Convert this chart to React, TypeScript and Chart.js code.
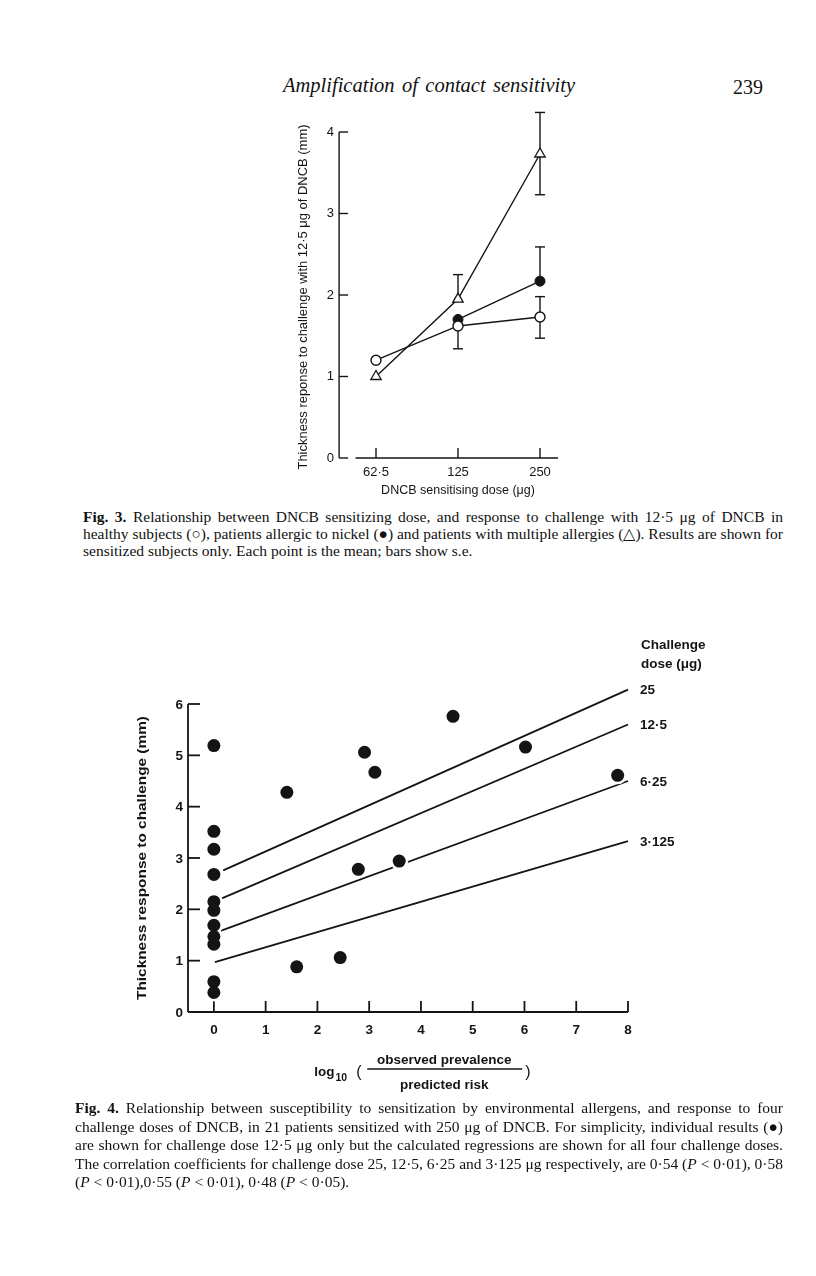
import React, { useEffect, useLayoutEffect, useRef } from 'react';
import { Chart, registerables } from 'chart.js';

Chart.register(...registerables);

// ---------- Fig. 3 data ----------
const fig3Doses = ['62·5', '125', '250'];
const fig3YTicks = [0, 1, 2, 3, 4];
const healthy = [1.2, 1.62, 1.73];
const nickel: (number | null)[] = [null, 1.7, 2.17];
const multiple = [1.0, 1.95, 3.73];
const healthyErrLow: (number | null)[] = [null, 0.28, 0.26];
const healthyErrHigh: (number | null)[] = [null, null, 0.25];
const nickelErrLow: (number | null)[] = [null, null, null];
const nickelErrHigh: (number | null)[] = [null, null, 0.42];
const multipleErrLow: (number | null)[] = [null, null, 0.5];
const multipleErrHigh: (number | null)[] = [null, 0.3, 0.51];

// ---------- Fig. 4 data ----------
const fig4XTicks = [0, 1, 2, 3, 4, 5, 6, 7, 8];
const fig4YTicks = [0, 1, 2, 3, 4, 5, 6];
const pointsX = [0, 0, 0, 0, 0, 0, 0, 0, 0, 0, 0, 1.41, 1.6, 2.44, 2.79, 2.91, 3.11, 3.58, 4.62, 6.02, 7.8];
const pointsY = [5.19, 3.52, 3.17, 2.68, 2.15, 1.98, 1.69, 1.47, 1.32, 0.59, 0.38, 4.28, 0.88, 1.06, 2.78, 5.06, 4.67, 2.94, 5.76, 5.16, 4.61];
const regLabels = ['25', '12·5', '6·25', '3·125'];
const regStartX = [0.18, 0.12, 0.13, 0.02];
const regStartY = [2.76, 2.2, 1.58, 0.97];
const regEndX = [8, 8, 8, 8];
const regEndY = [6.28, 5.6, 4.5, 3.33];

const INK = '#141414';
const SANS = '"Liberation Sans", Arial, sans-serif';
const SERIF = '"Liberation Serif", "Times New Roman", serif';

function line(ctx: CanvasRenderingContext2D, x1: number, y1: number, x2: number, y2: number) {
  ctx.beginPath();
  ctx.moveTo(x1, y1);
  ctx.lineTo(x2, y2);
  ctx.stroke();
}

const fig3Plugin = {
  id: 'fig3Plugin',
  beforeDatasetsDraw(chart: any) {
    const { ctx } = chart;
    const xs = chart.scales.x;
    const ys = chart.scales.y;
    ctx.save();
    ctx.strokeStyle = INK;
    ctx.fillStyle = INK;
    ctx.lineWidth = 1.4;
    const ax = xs.getPixelForValue(-0.45);
    const y0 = ys.getPixelForValue(0);
    const yTop = ys.getPixelForValue(4);
    line(ctx, ax, yTop, ax, y0);
    ctx.font = `13px ${SANS}`;
    ctx.textAlign = 'right';
    ctx.textBaseline = 'middle';
    fig3YTicks.forEach((t) => {
      const py = ys.getPixelForValue(t);
      line(ctx, ax, py, ax + 9, py);
      ctx.fillText(String(t), ax - 5, py);
    });
    const xl = xs.getPixelForValue(-0.25);
    const xr = xs.getPixelForValue(2.22);
    line(ctx, xl, y0, xr, y0);
    ctx.textAlign = 'center';
    fig3Doses.forEach((d, i) => {
      const px = xs.getPixelForValue(i);
      line(ctx, px, y0, px, y0 - 10);
      ctx.fillText(d, px, y0 + 14);
    });
    ctx.font = `12.5px ${SANS}`;
    ctx.fillText('DNCB sensitising dose (μg)', xs.getPixelForValue(1), y0 + 33);
    // y title
    ctx.save();
    ctx.translate(ax - 36, (yTop + y0) / 2 + 2);
    ctx.rotate(-Math.PI / 2);
    ctx.font = `12.5px ${SANS}`;
    const title = 'Thickness reponse to challenge with 12·5 μg of DNCB (mm)';
    const w = ctx.measureText(title).width;
    const target = 345;
    ctx.scale(target / w, 1);
    ctx.fillText(title, 0, 0);
    ctx.restore();
    // error bars
    const series = [
      { v: healthy, lo: healthyErrLow, hi: healthyErrHigh },
      { v: nickel, lo: nickelErrLow, hi: nickelErrHigh },
      { v: multiple, lo: multipleErrLow, hi: multipleErrHigh },
    ];
    ctx.lineWidth = 1.4;
    series.forEach((s) => {
      s.v.forEach((val, i) => {
        if (val == null) return;
        const px = xs.getPixelForValue(i);
        const py = ys.getPixelForValue(val);
        const hi = s.hi[i];
        const lo = s.lo[i];
        if (hi != null) {
          const p = ys.getPixelForValue(val + hi);
          line(ctx, px, py, px, p);
          line(ctx, px - 5, p, px + 5, p);
        }
        if (lo != null) {
          const p = ys.getPixelForValue(val - lo);
          line(ctx, px, py, px, p);
          line(ctx, px - 5, p, px + 5, p);
        }
      });
    });
    ctx.restore();
  },
};

const F4 = `bold 13.5px ${SANS}`;

const fig4Plugin = {
  id: 'fig4Plugin',
  beforeDatasetsDraw(chart: any) {
    const { ctx } = chart;
    const xs = chart.scales.x;
    const ys = chart.scales.y;
    ctx.save();
    ctx.strokeStyle = INK;
    ctx.fillStyle = INK;
    ctx.lineWidth = 1.8;
    const ax = xs.getPixelForValue(-0.5);
    const y0 = ys.getPixelForValue(0);
    const yTop = ys.getPixelForValue(6);
    const xEnd = xs.getPixelForValue(8);
    line(ctx, ax, yTop, ax, y0);
    line(ctx, ax, y0, xEnd, y0);
    ctx.font = F4;
    ctx.textAlign = 'right';
    ctx.textBaseline = 'middle';
    fig4YTicks.forEach((t) => {
      const py = ys.getPixelForValue(t);
      line(ctx, ax, py, ax + 12, py);
      ctx.fillText(String(t), ax - 5, py + 1);
    });
    ctx.textAlign = 'center';
    fig4XTicks.forEach((t) => {
      const px = xs.getPixelForValue(t);
      line(ctx, px, y0, px, y0 - 11);
      ctx.fillText(String(t), px, y0 + 18);
    });
    // y title
    ctx.save();
    ctx.translate(ax - 46, (yTop + y0) / 2 + 0);
    ctx.rotate(-Math.PI / 2);
    ctx.font = F4;
    const title = 'Thickness response to challenge (mm)';
    const w = ctx.measureText(title).width;
    ctx.scale(284 / w, 1);
    ctx.fillText(title, 0, 0);
    ctx.restore();
    // x title: log10 ( observed prevalence / predicted risk )
    const cx = xs.getPixelForValue(4.45);
    ctx.textBaseline = 'alphabetic';
    ctx.textAlign = 'left';
    ctx.font = F4;
    const lx = cx - 130;
    ctx.fillText('log', lx, y0 + 64);
    const lw = ctx.measureText('log').width;
    ctx.font = `bold 10.5px ${SANS}`;
    ctx.fillText('10', lx + lw + 1, y0 + 69);
    ctx.font = `16px ${SANS}`;
    ctx.fillText('(', lx + 42, y0 + 65);
    ctx.fillText(')', cx + 81, y0 + 65);
    ctx.font = F4;
    ctx.textAlign = 'center';
    ctx.fillText('observed prevalence', cx, y0 + 52);
    ctx.fillText('predicted risk', cx, y0 + 77);
    ctx.lineWidth = 1.5;
    line(ctx, cx - 77, y0 + 57, cx + 78, y0 + 57);
    ctx.restore();
  },
  afterDraw(chart: any) {
    const { ctx } = chart;
    const xs = chart.scales.x;
    const ys = chart.scales.y;
    ctx.save();
    ctx.fillStyle = INK;
    ctx.font = F4;
    ctx.textAlign = 'left';
    ctx.textBaseline = 'middle';
    regLabels.forEach((lab, i) => {
      const px = xs.getPixelForValue(regEndX[i]);
      const py = ys.getPixelForValue(regEndY[i]);
      ctx.fillText(lab, px + 12, py + 1);
    });
    const px0 = xs.getPixelForValue(8) + 13;
    const py0 = ys.getPixelForValue(regEndY[0]);
    ctx.fillText('Challenge', px0, py0 - 44);
    ctx.fillText('dose (μg)', px0, py0 - 25);
    ctx.restore();
  },
};

function Fig3() {
  const ref = useRef<HTMLCanvasElement>(null);
  useEffect(() => {
    const toPts = (arr: (number | null)[]) =>
      arr.map((v, i) => (v == null ? null : { x: i, y: v })).filter((p) => p !== null) as any[];
    const chart = new Chart(ref.current!, {
      type: 'scatter',
      data: {
        datasets: [
          {
            label: 'Healthy subjects',
            data: toPts(healthy),
            showLine: true,
            borderColor: INK,
            borderWidth: 1.4,
            backgroundColor: '#ffffff',
            pointBackgroundColor: '#ffffff',
            pointBorderColor: INK,
            pointBorderWidth: 1.4,
            pointRadius: 5,
            pointStyle: 'circle',
            clip: false,
          },
          {
            label: 'Allergic to nickel',
            data: toPts(nickel),
            showLine: true,
            borderColor: INK,
            borderWidth: 1.4,
            backgroundColor: INK,
            pointBackgroundColor: INK,
            pointBorderColor: INK,
            pointBorderWidth: 1,
            pointRadius: 5,
            pointStyle: 'circle',
            clip: false,
          },
          {
            label: 'Multiple allergies',
            data: toPts(multiple),
            showLine: true,
            borderColor: INK,
            borderWidth: 1.4,
            backgroundColor: '#ffffff',
            pointBackgroundColor: '#ffffff',
            pointBorderColor: INK,
            pointBorderWidth: 1.3,
            pointRadius: 6,
            pointStyle: 'triangle',
            clip: false,
          },
        ],
      },
      options: {
        responsive: false,
        animation: false,
        events: [],
        layout: { padding: { left: 85, right: 19, top: 32, bottom: 42 } },
        scales: {
          x: { type: 'linear', min: -0.5, max: 2.5, display: false },
          y: { type: 'linear', min: 0, max: 4, display: false },
        },
        plugins: { legend: { display: false }, tooltip: { enabled: false } },
      },
      plugins: [fig3Plugin],
    });
    return () => chart.destroy();
  }, []);
  return (
    <canvas ref={ref} width={350} height={400} style={{ position: 'absolute', left: 250, top: 100, width: 350, height: 400 }} />
  );
}

function Fig4() {
  const ref = useRef<HTMLCanvasElement>(null);
  useEffect(() => {
    const pts = pointsX.map((x, i) => ({ x, y: pointsY[i] }));
    const regDatasets = regLabels.map((lab, i) => ({
      label: `Challenge ${lab} μg`,
      data: [
        { x: regStartX[i], y: regStartY[i] },
        { x: regEndX[i], y: regEndY[i] },
      ],
      showLine: true,
      borderColor: INK,
      borderWidth: 1.8,
      pointRadius: 0,
      order: 2,
      clip: false,
    }));
    const chart = new Chart(ref.current!, {
      type: 'scatter',
      data: {
        datasets: [
          ...regDatasets,
          {
            label: 'halo',
            data: pts,
            pointRadius: 9,
            pointBackgroundColor: '#ffffff',
            pointBorderWidth: 0,
            pointBorderColor: '#ffffff',
            order: 1,
            clip: false,
          },
          {
            label: 'Individual results (12·5 μg)',
            data: pts,
            pointRadius: 6.5,
            pointBackgroundColor: INK,
            pointBorderColor: INK,
            pointBorderWidth: 0,
            order: 0,
            clip: false,
          },
        ] as any,
      },
      options: {
        responsive: false,
        animation: false,
        events: [],
        layout: { padding: { left: 88, right: 112, top: 84, bottom: 88 } },
        scales: {
          x: { type: 'linear', min: -0.5, max: 8, display: false },
          y: { type: 'linear', min: 0, max: 6, display: false },
        },
        plugins: { legend: { display: false }, tooltip: { enabled: false } },
      },
      plugins: [fig4Plugin],
    });
    return () => chart.destroy();
  }, []);
  return (
    <canvas ref={ref} width={640} height={480} style={{ position: 'absolute', left: 100, top: 620, width: 640, height: 480 }} />
  );
}

function JLine(props: { left: number; center: number; width?: number; size: number; italic?: boolean; children: React.ReactNode }) {
  const ref = useRef<HTMLSpanElement>(null);
  useLayoutEffect(() => {
    const el = ref.current;
    if (!el || !props.width) return;
    el.style.wordSpacing = '0px';
    el.style.transform = 'none';
    const natural = el.getBoundingClientRect().width;
    const spaces = (el.textContent || '').split(' ').length - 1;
    if (natural < props.width && spaces > 0) {
      el.style.wordSpacing = `${(props.width - natural) / spaces}px`;
    } else if (natural > props.width) {
      el.style.transform = `scaleX(${props.width / natural})`;
    }
  }, []);
  return (
    <span
      ref={ref}
      style={{
        position: 'absolute',
        left: props.left,
        top: props.center - props.size * 0.58,
        fontSize: props.size,
        lineHeight: 1,
        whiteSpace: 'pre',
        display: 'inline-block',
        transformOrigin: 'left top',
        fontFamily: SERIF,
        fontStyle: props.italic ? 'italic' : 'normal',
        color: '#111',
      }}
    >
      {props.children}
    </span>
  );
}

const P = () => <i>P</i>;

export default function App() {
  const cs = 15.5;
  return (
    <div style={{ position: 'absolute', left: 0, top: 0, width: 816, height: 1276, background: '#fff', overflow: 'hidden' }}>
      <JLine left={283} center={87} width={292} size={20.5} italic>
        Amplification of contact sensitivity
      </JLine>
      <JLine left={733} center={89} size={20}>
        239
      </JLine>
      <Fig3 />
      <JLine left={83} center={518} width={700} size={cs}>
        <b>Fig. 3.</b> Relationship between DNCB sensitizing dose, and response to challenge with 12·5 μg of DNCB in
      </JLine>
      <JLine left={83} center={535} width={700} size={cs}>
        healthy subjects (○), patients allergic to nickel (●) and patients with multiple allergies (△). Results are shown for
      </JLine>
      <JLine left={83} center={552} size={cs}>
        sensitized subjects only. Each point is the mean; bars show s.e.
      </JLine>
      <Fig4 />
      <JLine left={75} center={1109} width={708} size={cs}>
        <b>Fig. 4.</b> Relationship between susceptibility to sensitization by environmental allergens, and response to four
      </JLine>
      <JLine left={75} center={1127.5} width={708} size={cs}>
        challenge doses of DNCB, in 21 patients sensitized with 250 μg of DNCB. For simplicity, individual results (●)
      </JLine>
      <JLine left={75} center={1146} width={708} size={cs}>
        are shown for challenge dose 12·5 μg only but the calculated regressions are shown for all four challenge doses.
      </JLine>
      <JLine left={75} center={1164.5} width={708} size={cs}>
        The correlation coefficients for challenge dose 25, 12·5, 6·25 and 3·125 μg respectively, are 0·54 (<P /> &lt; 0·01), 0·58
      </JLine>
      <JLine left={75} center={1183} size={cs}>
        (<P /> &lt; 0·01),0·55 (<P /> &lt; 0·01), 0·48 (<P /> &lt; 0·05).
      </JLine>
    </div>
  );
}
